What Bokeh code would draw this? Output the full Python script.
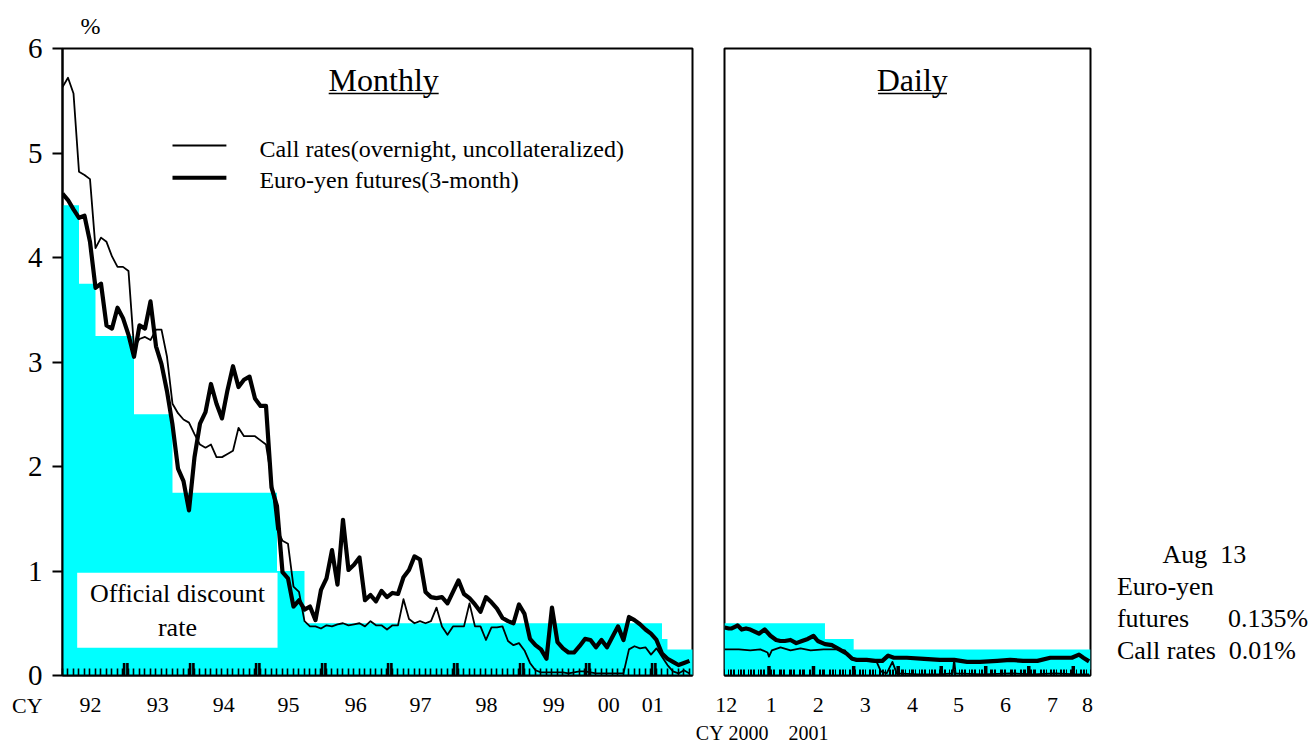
import numpy as np
import pandas as pd
from bokeh.plotting import figure
from bokeh.layouts import row
from bokeh.models import Range1d, FixedTicker, Label
from bokeh.core.properties import value
from bokeh.embed import file_html
from bokeh.resources import INLINE

FONT = "Liberation Serif"
CYAN = "#00FFFF"
NB = "\u00a0"

# ---------------- Monthly data (month index 0 = Jan 1992) ----------------
month_idx = list(range(115))
call_monthly = [
    5.63, 5.72, 5.57, 4.82, 4.79, 4.75, 4.09, 4.19, 4.15, 4.01, 3.91, 3.91,
    3.87, 3.14, 3.22, 3.24, 3.21, 3.31, 3.31, 3.05, 2.60, 2.51, 2.45, 2.42,
    2.31, 2.21, 2.18, 2.21, 2.09, 2.09, 2.12, 2.15, 2.37, 2.29, 2.29, 2.29,
    2.25, 2.21, 1.88, 1.40, 1.29, 1.26, 0.85, 0.80, 0.52, 0.47, 0.47, 0.45,
    0.48, 0.47, 0.49, 0.50, 0.48, 0.49, 0.50, 0.47, 0.52, 0.48, 0.48, 0.44,
    0.48, 0.48, 0.73, 0.54, 0.50, 0.52, 0.50, 0.52, 0.65, 0.47, 0.39, 0.47,
    0.47, 0.47, 0.69, 0.47, 0.47, 0.34, 0.46, 0.46, 0.47, 0.33, 0.29, 0.31,
    0.24, 0.12, 0.05, 0.03, 0.03, 0.03, 0.03, 0.03, 0.02, 0.03, 0.04, 0.04,
    0.03, 0.02, 0.02, 0.02, 0.02, 0.02, 0.02, 0.25, 0.28, 0.26, 0.27, 0.20,
    0.26, 0.18, 0.10, 0.04, 0.02, 0.05, 0.02,
]
euroyen_monthly = [
    4.61, 4.55, 4.46, 4.38, 4.40, 4.15, 3.71, 3.75, 3.35, 3.32, 3.52, 3.42,
    3.26, 3.05, 3.35, 3.32, 3.58, 3.15, 2.98, 2.72, 2.40, 1.98, 1.86, 1.58,
    2.09, 2.41, 2.52, 2.79, 2.60, 2.46, 2.73, 2.96, 2.76, 2.83, 2.86, 2.65,
    2.58, 2.58, 1.80, 1.62, 0.99, 0.93, 0.66, 0.72, 0.63, 0.66, 0.53, 0.82,
    0.93, 1.20, 0.87, 1.49, 1.01, 1.06, 1.13, 0.72, 0.77, 0.71, 0.81, 0.75,
    0.79, 0.78, 0.94, 1.01, 1.14, 1.11, 0.80, 0.75, 0.74, 0.75, 0.69, 0.80,
    0.91, 0.78, 0.74, 0.68, 0.61, 0.75, 0.70, 0.64, 0.55, 0.52, 0.50, 0.68,
    0.59, 0.35, 0.29, 0.25, 0.16, 0.65, 0.32, 0.26, 0.22, 0.22, 0.28, 0.35,
    0.34, 0.27, 0.34, 0.27, 0.37, 0.47, 0.34, 0.56, 0.53, 0.49, 0.44, 0.40,
    0.34, 0.21, 0.16, 0.13, 0.10, 0.12, 0.14,
]
# Official discount rate: month index where a level starts, and the level
odr_start_month = [0, 3, 6, 13, 20, 39, 44, 109, 110, 115]
odr_level = [4.5, 3.75, 3.25, 2.5, 1.75, 1.0, 0.5, 0.35, 0.25, 0.25]

year_labels = ["92", "93", "94", "95", "96", "97", "98", "99", "00", "01"]
year_label_pos = [5.1, 17.3, 29.3, 41.1, 53.3, 65.1, 77.1, 89.3, 99.3, 107.3]

# ---------------- Daily data (days since 1 Dec 2000) ----------------
daily_start = pd.Timestamp("2000-12-01")
euroyen_day = [0, 3, 5, 8, 9, 12, 15, 18, 21, 24, 28, 32, 36, 39, 42, 46, 50, 54,
               58, 62, 65, 70, 75, 80, 85, 89, 92, 99, 105, 110, 114, 118, 127,
               139, 150, 160, 169, 178, 190, 199, 208, 218, 227, 236, 242, 247,
               250, 254]
euroyen_daily = [0.46, 0.45, 0.45, 0.47, 0.48, 0.44, 0.45, 0.44, 0.42, 0.40, 0.44,
                 0.38, 0.34, 0.33, 0.33, 0.34, 0.31, 0.33, 0.35, 0.38, 0.33, 0.30,
                 0.29, 0.25, 0.21, 0.16, 0.15, 0.15, 0.14, 0.14, 0.19, 0.17, 0.17,
                 0.16, 0.15, 0.15, 0.13, 0.13, 0.14, 0.15, 0.14, 0.14, 0.17, 0.17,
                 0.17, 0.20, 0.17, 0.135]
call_day = [0, 10, 18, 25, 30, 31, 33, 39, 46, 53, 60, 69, 78, 84, 88, 92, 99,
            106, 109, 113, 117, 120, 135, 150, 159, 160, 161, 180, 200, 215, 230,
            245, 254]
call_daily = [0.25, 0.25, 0.24, 0.25, 0.22, 0.18, 0.24, 0.27, 0.24, 0.26, 0.24,
              0.25, 0.25, 0.24, 0.16, 0.14, 0.14, 0.13, 0.04, 0.02, 0.13, 0.02,
              0.01, 0.01, 0.02, 0.15, 0.02, 0.01, 0.02, 0.01, 0.02, 0.01, 0.01]
odr_day = [0, 70, 90, 255]
odr_daily = [0.5, 0.35, 0.25, 0.25]

day_labels = ["12", "1", "2", "3", "4", "5", "6", "7", "8"]
day_label_pos = [1.2, 32.5, 65.3, 98.0, 130.9, 163.0, 195.8, 228.5, 252.9]

latest_date = "Aug" + NB * 2 + "13"
latest_euroyen = "0.135%"
latest_call = "0.01%"


def style_common(p):
    p.grid.visible = False
    p.outline_line_color = "black"
    p.outline_line_width = 2
    p.background_fill_color = "white"
    p.border_fill_color = "white"
    p.xaxis.axis_line_width = 2
    p.xaxis.axis_line_color = "black"
    p.xaxis.major_tick_line_color = None
    p.xaxis.minor_tick_in = 7
    p.xaxis.minor_tick_out = 0
    p.xaxis.minor_tick_line_color = "black"
    p.xaxis.major_label_text_font = FONT
    p.xaxis.major_label_text_font_size = "22px"
    p.xaxis.major_label_text_color = "black"
    p.xaxis.major_label_standoff = 16


def add_text_label(p, side, txt, x, y, size, align="center", baseline="middle", lh=1.2):
    p.add_layout(Label(x=x, y=y, text=txt, text_font=FONT, text_font_size=size,
                       text_align=align, text_baseline=baseline, text_color="black",
                       text_line_height=lh), side)


# ---------------- Monthly panel ----------------
p1 = figure(width=694, height=745, x_range=Range1d(0, 114.55), y_range=Range1d(0, 6),
            output_backend="svg", toolbar_location=None,
            min_border_left=62, min_border_right=2, min_border_top=48, min_border_bottom=70)
style_common(p1)
p1.xaxis.ticker = FixedTicker(ticks=year_label_pos, minor_ticks=month_idx)
p1.xaxis.major_label_overrides = {pos: lab for pos, lab in zip(year_label_pos, year_labels)}
p1.xaxis.minor_tick_line_width = 1.6

p1.yaxis.ticker = FixedTicker(ticks=[0, 1, 2, 3, 4, 5, 6], minor_ticks=[])
p1.yaxis.axis_line_width = 2
p1.yaxis.major_tick_in = 0
p1.yaxis.major_tick_out = 10
p1.yaxis.major_tick_line_width = 2
p1.yaxis.major_label_text_font = FONT
p1.yaxis.major_label_text_font_size = "29px"
p1.yaxis.major_label_text_color = "black"
p1.yaxis.major_label_standoff = 10

p1.varea_step(x=odr_start_month, y1=0, y2=odr_level, step_mode="after", fill_color=CYAN)

# year boundary double ticks
yb = [11.5 + 12 * k for k in range(9)]
yb_x = [b + d for b in yb for d in (-0.3, 0.3)]
p1.segment(x0=yb_x, x1=yb_x, y0=[0] * len(yb_x), y1=[0.12] * len(yb_x),
           line_color="black", line_width=2.6)

# white box for ODR label
p1.quad(left=[2.67], right=[39.1], bottom=[0.265], top=[0.983], fill_color="white",
        line_color=None)
p1.text(x=[20.9, 20.9], y=[0.782, 0.456], text=["Official discount", "rate"],
        text_font=value(FONT), text_font_size=value("26px"), text_align="center",
        text_baseline="middle", text_color="black")

p1.line(month_idx, call_monthly, line_color="black", line_width=1.8, line_join="round")
p1.line(month_idx, euroyen_monthly, line_color="black", line_width=4.2, line_join="round")

# title
p1.text(x=[58.4], y=[5.694], text=["Monthly"], text_font=value(FONT),
        text_font_size=value("32px"), text_align="center", text_baseline="middle",
        text_color="black")
p1.segment(x0=[48.4], x1=[68.4], y0=[5.569], y1=[5.569], line_color="black", line_width=1.5)

# legend
p1.segment(x0=[20.0, 20.0], x1=[29.8, 29.8], y0=[5.072, 4.763], y1=[5.072, 4.763],
           line_color="black", line_width=[1.8, 4.2])
p1.text(x=[35.8, 35.8], y=[5.043, 4.737],
        text=["Call rates(overnight, uncollateralized)", "Euro-yen futures(3-month)"],
        text_font=value(FONT), text_font_size=value("24px"), text_align="left",
        text_baseline="middle", text_color="black")

add_text_label(p1, "above", "%", 5.1, 6.22, "24px")
add_text_label(p1, "below", "CY", -6.4, -0.287, "22px")

# ---------------- Daily panel ----------------
p2 = figure(width=616, height=745, x_range=Range1d(0, 255), y_range=Range1d(0, 6),
            output_backend="svg", toolbar_location=None,
            min_border_left=30, min_border_right=220, min_border_top=48, min_border_bottom=70)
style_common(p2)
p2.yaxis.visible = False
bdays = [(d - daily_start).days for d in pd.bdate_range("2000-12-01", "2001-08-13")]
p2.xaxis.ticker = FixedTicker(ticks=day_label_pos, minor_ticks=bdays)
p2.xaxis.major_label_overrides = {pos: lab for pos, lab in zip(day_label_pos, day_labels)}
p2.xaxis.minor_tick_line_width = 1
p2.xaxis.minor_tick_in = 6

p2.varea_step(x=odr_day, y1=0, y2=odr_daily, step_mode="after", fill_color=CYAN)
mstarts = [(d - daily_start).days for d in pd.date_range("2001-01-01", "2001-08-01", freq="MS")]
p2.segment(x0=mstarts, x1=mstarts, y0=[0] * len(mstarts), y1=[0.09] * len(mstarts),
           line_color="black", line_width=3.5)

p2.line(call_day, call_daily, line_color="black", line_width=1.8, line_join="round")
p2.line(euroyen_day, euroyen_daily, line_color="black", line_width=4.2, line_join="round")

p2.text(x=[130.8], y=[5.694], text=["Daily"], text_font=value(FONT),
        text_font_size=value("32px"), text_align="center", text_baseline="middle",
        text_color="black")
p2.segment(x0=[107.0], x1=[155.0], y0=[5.569], y1=[5.569], line_color="black", line_width=1.5)

add_text_label(p2, "above", "CY" + NB + "2000" + NB * 4 + "2001", -20.0, -0.555, "20px",
               align="left")

note = "\n".join([
    NB * 7 + latest_date,
    "Euro-yen",
    "futures" + NB * 6 + latest_euroyen,
    "Call rates" + NB * 2 + latest_call,
])
add_text_label(p2, "right", note, 273.4, 1.301, "26px", align="left", baseline="top", lh=1.11)

layout = row(p1, p2)
open("out.html", "w").write(file_html(layout, INLINE))
